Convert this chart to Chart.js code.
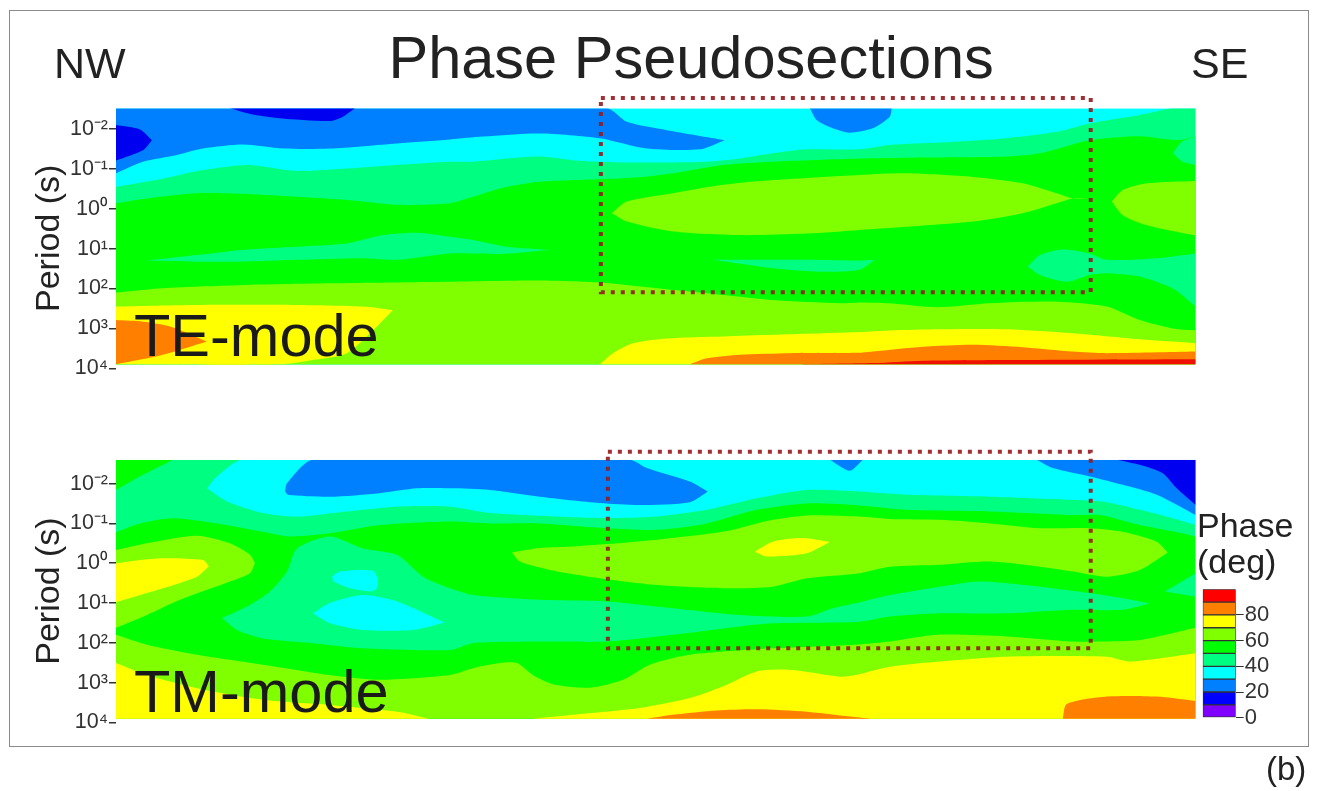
<!DOCTYPE html>
<html><head><meta charset="utf-8">
<script src="https://cdn.jsdelivr.net/npm/chart.js@4"></script>
<style>
html,body{margin:0;padding:0;background:#fff;width:1317px;height:791px;overflow:hidden;font-family:"Liberation Sans",Arial,sans-serif;}
#frame{position:absolute;left:9px;top:10px;width:1298px;height:735px;border:1px solid #8a8a8a;}
canvas{position:absolute;}
.t{position:absolute;white-space:pre;color:#222;line-height:1;z-index:5;}
</style></head><body>
<div id="frame"></div>
<canvas id="te" style="left:0;top:85px" width="1200" height="300"></canvas>
<canvas id="tm" style="left:0;top:440px" width="1200" height="300"></canvas>
<canvas id="bar" style="left:1190px;top:575px" width="127" height="160"></canvas>
<div class="t" style="left:388.5px;top:28px;font-size:59.5px">Phase Pseudosections</div>
<div class="t" style="left:54px;top:42px;font-size:43px">NW</div>
<div class="t" style="left:1191px;top:42px;font-size:43px">SE</div>
<div class="t" style="left:134px;top:306px;font-size:59.5px;color:#1a1a1a">TE-mode</div>
<div class="t" style="left:134px;top:662px;font-size:59.5px;color:#1a1a1a">TM-mode</div>
<div class="t" style="left:1197px;top:508px;font-size:34px">Phase</div>
<div class="t" style="left:1197px;top:544px;font-size:34px">(deg)</div>
<div class="t" style="left:1266px;top:752px;font-size:33px">(b)</div>
<script>
const tickLabels = ['10\u207B\u00B2','10\u207B\u00B9','10\u2070','10\u00B9','10\u00B2','10\u00B3','10\u2074'];
const tickExps = [-2,-1,0,1,2,3,4];
const phaseBands = [0,10,20,30,40,50,60,70,80,90,100];
const phaseTicks = [0,20,40,60,80];
const C = {violet:'#8000ff',deep:'#0000f0',blue:'#0080ff',cyan:'#00ffff',teal:'#00ff80',green:'#00ff00',lime:'#80ff00',yellow:'#ffff00',orange:'#ff8000',red:'#f01000'};
const bandColors = [C.violet,'#0000ff',C.blue,C.cyan,C.teal,C.green,C.lime,C.yellow,C.orange,'#ff0000'];

/* TE-mode contours: [station, log10 period] */
const teTop = [[0,-2.52],[1080,-2.52]];
const teBlueUp = [[0,-2.52],[491,-2.52],[511,-2.18],[551,-1.97],[609,-1.72]];
const teBlueLow = [[0,-.89],[27,-1.18],[61,-1.35],[87,-1.51],[127,-1.61],[167,-1.51],[214,-1.51],[281,-1.64],[334,-1.74],[367,-1.81],[424,-1.89],[484,-1.77],[531,-1.51],[584,-1.49],[609,-1.72]];
const teDeepAUp = [[114,-2.52],[239,-2.52]];
const teDeepALow = [[114,-2.52],[134,-2.38],[164,-2.27],[214,-2.20],[227,-2.31],[239,-2.52]];
const teDeepBUp = [[0,-2.10],[24,-1.99],[36,-1.72]];
const teDeepBLow = [[0,-1.21],[27,-1.47],[36,-1.72]];
const teBlueBUp = [[694,-2.52],[776,-2.52]];
const teBlueBLow = [[694,-2.52],[701,-2.22],[717,-2.02],[734,-1.91],[757,-2.02],[774,-2.31],[776,-2.52]];
const teCyanLow = [[0,-.55],[48,-.76],[87,-.97],[131,-1.10],[181,-.95],[231,-1.01],[281,-1.10],[334,-1.18],[357,-1.18],[391,-1.26],[424,-1.31],[457,-1.22],[484,-1.18],[524,-1.16],[591,-1.18],[624,-1.26],[657,-1.39],[691,-1.49],[744,-1.49],[774,-1.60],[824,-1.66],[891,-1.77],[941,-1.93],[974,-2.14],[1024,-2.35],[1057,-2.52],[1080,-2.52]];
const teGreenUp = [[0,-.14],[31,-.26],[81,-.39],[131,-.37],[181,-.30],[231,-.22],[281,-.10],[334,-.14],[357,-.30],[391,-.55],[424,-.68],[484,-.74],[524,-.79],[557,-.89],[607,-1.10],[657,-1.18],[744,-1.26],[791,-1.28],[891,-1.31],[924,-1.39],[974,-1.72],[1024,-1.82],[1062,-1.72],[1080,-1.81]];
const teTealRUp = [[1057,-1.39],[1066,-1.68],[1080,-1.81]];
const teTealRLow = [[1057,-1.39],[1067,-1.18],[1080,-1.10]];
const teTealAUp = [[31,1.30],[81,1.16],[131,1.02],[181,.95],[231,.87],[267,.66],[301,.60],[334,.70],[357,.78],[391,.95],[434,1.03]];
const teTealALow = [[31,1.30],[114,1.33],[181,1.28],[247,1.24],[281,1.28],[334,1.12],[357,1.12],[391,1.13],[434,1.03]];
const teTealBUp = [[597,1.28],[624,1.28],[691,1.28],[744,1.30],[759,1.28]];
const teTealBLow = [[597,1.28],[657,1.49],[707,1.58],[744,1.53],[759,1.28]];
const teTealCUp = [[912,1.45],[924,1.16],[947,1.02],[974,1.12],[991,1.28],[1041,1.24],[1080,1.12]];
const teTealCLow = [[912,1.45],[924,1.66],[951,1.83],[974,1.66],[994,1.62],[1024,1.70],[1057,2.00],[1080,2.45]];
const teLimeAUp = [[496,.11],[511,-.18],[557,-.39],[607,-.60],[657,-.72],[744,-.85],[791,-.89],[857,-.80],[907,-.64],[941,-.39],[957,-.26],[974,-.26]];
const teLimeALow = [[496,.11],[511,.32],[557,.57],[624,.66],[691,.62],[744,.53],[791,.45],[857,.32],[907,.11],[941,-.14],[957,-.26],[974,-.26]];
const teLimeBUp = [[996,-.18],[1007,-.47],[1031,-.64],[1080,-.70]];
const teLimeBLow = [[996,-.18],[1007,.16],[1031,.41],[1080,.67]];
const teLimeLow = [[0,2.10],[47,1.99],[131,1.91],[214,1.87],[334,1.83],[424,1.80],[484,1.85],[524,1.95],[591,2.12],[657,2.29],[724,2.37],[744,2.35],[774,2.37],[821,2.47],[874,2.37],[941,2.33],[991,2.45],[1024,2.79],[1057,3.00],[1080,3.05]];
const teYellowLUp = [[0,2.45],[81,2.41],[181,2.41],[247,2.45],[277,2.54]];
const teYellowLLow = [[0,3.90],[164,3.90],[197,3.79],[231,3.62],[261,2.95],[277,2.54]];
const teOrangeLUp = [[0,2.79],[27,2.83],[54,2.95],[91,3.33]];
const teOrangeLLow = [[0,3.90],[47,3.66],[91,3.33]];
const teYellowR = [[484,3.90],[497,3.62],[517,3.37],[551,3.25],[607,3.20],[657,3.16],[744,3.09],[774,3.05],[824,3.02],[891,3.02],[957,3.12],[1024,3.27],[1080,3.37]];
const teOrangeR = [[574,3.90],[591,3.75],[624,3.66],[674,3.62],[744,3.61],[757,3.58],[807,3.46],[857,3.41],[907,3.47],[957,3.58],[991,3.62],[1080,3.58]];
const teRed = [[681,3.90],[757,3.87],[807,3.81],[891,3.79],[1080,3.77]];
const teBox = [[485,-2.78],[975,-2.78],[975,2.09],[485,2.09],[485,-2.78]];

/* TM-mode contours */
const tmTop = [[0,-2.60],[1080,-2.60]];
const tmGreenCUp = [[0,-2.60],[57,-2.60]];
const tmGreenCLow = [[0,-1.84],[27,-2.22],[57,-2.60]];
const tmCyanUp = [[91,-1.88],[101,-2.18],[127,-2.60],[1080,-2.60]];
const tmCyanLow = [[91,-1.88],[111,-1.55],[147,-1.26],[181,-1.17],[231,-1.30],[281,-1.42],[334,-1.42],[374,-1.26],[441,-1.17],[491,-1.13],[541,-1.17],[591,-1.34],[641,-1.63],[691,-1.84],[744,-1.80],[791,-1.72],[874,-1.67],[957,-1.59],[987,-1.55],[1024,-1.34],[1057,-1.13],[1080,-.96]];
const tmBlueUp = [[169,-1.80],[171,-2.01],[197,-2.60],[514,-2.60],[531,-2.39],[574,-2.05],[592,-1.80]];
const tmBlueLow = [[169,-1.80],[172,-1.72],[214,-1.67],[264,-1.76],[301,-1.88],[334,-1.88],[374,-1.84],[424,-1.67],[484,-1.51],[524,-1.46],[574,-1.53],[592,-1.80]];
const tmBlueBUp = [[714,-2.60],[747,-2.60]];
const tmBlueBLow = [[714,-2.60],[734,-2.32],[747,-2.60]];
const tmBlueCUp = [[921,-2.60],[1080,-2.60]];
const tmBlueCLow = [[921,-2.60],[937,-2.39],[974,-2.18],[1007,-1.97],[1041,-1.72],[1080,-1.21]];
const tmDeepUp = [[1001,-2.60],[1080,-2.60]];
const tmDeepLow = [[1001,-2.60],[1024,-2.47],[1047,-2.26],[1061,-1.88],[1080,-1.46]];
const tmGreenUp = [[0,-.78],[24,-1.0],[57,-1.13],[101,-1.0],[147,-.79],[174,-.67],[214,-.75],[264,-.96],[334,-1.05],[374,-1.0],[424,-1.0],[491,-.88],[541,-.84],[591,-1.0],[641,-1.34],[691,-1.50],[744,-1.45],[791,-1.34],[874,-1.30],[957,-1.21],[984,-1.21],[1024,-.96],[1057,-.80],[1080,-.67]];
const tmLimeLUp = [[0,-.33],[31,-.50],[81,-.69],[114,-.50],[134,-.21],[139,0]];
const tmLimeLLow = [[0,1.62],[31,1.30],[64,.92],[114,.46],[134,.25],[139,0]];
const tmYellowMUp = [[0,0],[41,-.12],[87,-.08],[93,.08]];
const tmYellowMLow = [[0,.98],[47,.63],[81,.34],[93,.08]];
const tmTealUp = [[106,1.38],[131,1.09],[154,.71],[171,.21],[181,-.37],[214,-.67],[247,-.37],[281,-.21],[307,.34],[334,.63],[357,.80],[424,.92],[491,.96],[557,1.13],[624,1.30],[691,1.34],[717,1.13],[744,.98],[774,.80],[824,.59],[864,.46],[924,.59],[974,.75],[1007,.88],[1034,1.01]];
const tmTealLow = [[106,1.38],[121,1.68],[147,1.89],[197,2.01],[247,2.14],[334,2.18],[357,2.01],[424,1.97],[491,1.97],[557,1.80],[624,1.59],[657,1.51],[744,1.47],[774,1.34],[824,1.26],[891,1.26],[957,1.17],[1007,1.17],[1034,1.01]];
const tmTealRUp = [[1049,.71],[1080,.25]];
const tmTealRLow = [[1049,.71],[1080,.84]];
const tmCyanSUp = [[216,.34],[224,.21],[257,.19],[262,.38]];
const tmCyanSLow = [[216,.34],[218,.46],[234,.63],[254,.71],[261,.63],[262,.38]];
const tmCyanLUp = [[197,1.26],[214,1.00],[247,.80],[281,.96],[329,1.49]];
const tmCyanLLow = [[197,1.26],[214,1.51],[247,1.68],[297,1.68],[329,1.49]];
const tmLimeMUp = [[396,-.27],[424,-.38],[457,-.42],[491,-.48],[541,-.59],[607,-.79],[641,-1.0],[657,-1.09],[691,-1.20],[744,-1.17],[774,-1.11],[824,-1.09],[874,-1.0],[924,-.88],[974,-.88],[1007,-.79],[1041,-.54],[1052,-.27]];
const tmLimeMLow = [[396,-.27],[404,-.04],[434,.17],[484,.38],[541,.55],[607,.63],[657,.59],[691,.38],[744,.25],[774,.09],[824,.04],[874,-.04],[924,.09],[957,.21],[991,.34],[1024,.17],[1052,-.27]];
const tmYellowSUp = [[639,-.29],[657,-.54],[687,-.63],[714,-.53]];
const tmYellowSLow = [[639,-.29],[651,-.17],[691,-.25],[714,-.53]];
const tmLimeLow = [[0,1.80],[31,2.05],[81,2.30],[147,2.55],[214,2.81],[264,2.93],[334,2.81],[357,2.64],[384,2.51],[401,2.51],[417,2.81],[437,3.04],[474,3.13],[507,2.93],[534,2.55],[574,2.30],[657,2.14],[744,2.04],[774,1.97],[821,1.80],[891,1.84],[957,1.97],[984,1.97],[1024,1.93],[1080,1.62]];
const tmYellowL = [[0,2.51],[31,2.81],[81,3.14],[147,3.43],[214,3.56],[281,3.73],[314,3.91]];
const tmYellowR = [[417,3.91],[457,3.81],[524,3.64],[574,3.39],[607,3.10],[641,2.72],[674,2.68],[724,2.85],[741,2.80],[774,2.60],[824,2.47],[891,2.35],[991,2.35],[1014,2.47],[1080,2.26]];
const tmOrangeC = [[531,3.91],[557,3.81],[601,3.70],[641,3.67],[691,3.73],[734,3.85],[757,3.91]];
const tmOrangeR = [[947,3.91],[951,3.54],[991,3.35],[1041,3.35],[1080,3.46]];
const tmBox = [[492,-2.80],[975,-2.80],[975,2.14],[492,2.14],[492,-2.80]];

const teLayers = [
 [C.cyan,teTop,null],[C.blue,teBlueUp,teBlueLow],[C.deep,teDeepAUp,teDeepALow],[C.deep,teDeepBUp,teDeepBLow],[C.blue,teBlueBUp,teBlueBLow],
 [C.teal,teCyanLow,null],[C.green,teGreenUp,null],[C.teal,teTealRUp,teTealRLow],[C.teal,teTealAUp,teTealALow],[C.teal,teTealBUp,teTealBLow],[C.teal,teTealCUp,teTealCLow],
 [C.lime,teLimeAUp,teLimeALow],[C.lime,teLimeBUp,teLimeBLow],[C.lime,teLimeLow,null],[C.yellow,teYellowLUp,teYellowLLow],[C.orange,teOrangeLUp,teOrangeLLow],
 [C.yellow,teYellowR,null],[C.orange,teOrangeR,null],[C.red,teRed,null]];
const tmLayers = [
 [C.teal,tmTop,null],[C.green,tmGreenCUp,tmGreenCLow],[C.cyan,tmCyanUp,tmCyanLow],[C.blue,tmBlueUp,tmBlueLow],[C.blue,tmBlueBUp,tmBlueBLow],[C.blue,tmBlueCUp,tmBlueCLow],[C.deep,tmDeepUp,tmDeepLow],
 [C.green,tmGreenUp,null],[C.lime,tmLimeLUp,tmLimeLLow],[C.yellow,tmYellowMUp,tmYellowMLow],[C.teal,tmTealUp,tmTealLow],[C.teal,tmTealRUp,tmTealRLow],[C.cyan,tmCyanSUp,tmCyanSLow],[C.cyan,tmCyanLUp,tmCyanLLow],
 [C.lime,tmLimeMUp,tmLimeMLow],[C.yellow,tmYellowSUp,tmYellowSLow],[C.lime,tmLimeLow,null],[C.yellow,tmYellowL,null],[C.yellow,tmYellowR,null],[C.orange,tmOrangeC,null],[C.orange,tmOrangeR,null]];

const pts = a => a.map(p => ({x:p[0],y:p[1]}));
function panel(id, layers, box, yMin, yFloor, padTop, padBottom){
  const datasets = [];
  layers.forEach(([color,up,low]) => {
    const order = 1000 - datasets.length;
    const base = {pointRadius:0,borderWidth:0,tension:0.25,order};
    if (low) {
      datasets.push({...base,data:pts(up),backgroundColor:color,fill:datasets.length+1});
      datasets.push({...base,data:pts(low),fill:false});
    } else {
      datasets.push({...base,data:pts(up),backgroundColor:color,fill:{target:{value:yFloor}}});
    }
  });
  datasets.push({data:pts(box),order:0,fill:false,tension:0,pointRadius:0,borderWidth:4,borderColor:'rgba(150,25,30,.9)',borderDash:[4,6],clip:false});
  new Chart(document.getElementById(id),{type:'line',data:{datasets},options:{
    responsive:false,animation:false,events:[],
    layout:{padding:{left:0,right:4.3,top:padTop,bottom:padBottom}},
    plugins:{legend:{display:false},tooltip:{enabled:false}},
    scales:{
      x:{type:'linear',min:0,max:1080,display:false},
      y:{type:'linear',reverse:true,min:yMin,max:4,
        afterFit(s){s.width=116;},
        afterBuildTicks(s){s.ticks=tickExps.map(v=>({value:v}));},
        border:{display:false},
        grid:{drawOnChartArea:false,drawTicks:true,tickLength:7,color:'#333',lineWidth:1.5},
        ticks:{autoSkip:false,padding:1,color:'#333',font:{family:'"Liberation Sans"',size:21.5},callback:v=>tickLabels[tickExps.indexOf(v)]},
        title:{display:true,text:'Period (s)',color:'#222',font:{family:'"Liberation Sans"',size:34},padding:{top:29,bottom:0}}
      }
    }}});
}
panel('te',teLayers,teBox,-2.52,3.90,23.3,16.7);
panel('tm',tmLayers,tmBox,-2.60,3.91,19.7,17.6);

new Chart(document.getElementById('bar'),{type:'bar',data:{labels:['Phase'],
  datasets:bandColors.map((c,i)=>({data:[phaseBands[i+1]-phaseBands[i]],backgroundColor:c,borderColor:'#333',borderWidth:1,borderSkipped:false,barPercentage:1,categoryPercentage:1,stack:'p'}))},
  options:{responsive:false,animation:false,events:[],
    layout:{padding:{left:12.7,right:0,top:14,bottom:17.3}},
    plugins:{legend:{display:false},tooltip:{enabled:false}},
    scales:{
      x:{display:false,stacked:true},
      y:{position:'right',stacked:true,min:0,max:100,
        afterFit(s){s.width=81.3;},
        afterBuildTicks(s){s.ticks=phaseTicks.map(v=>({value:v}));},
        border:{display:false},
        grid:{drawOnChartArea:false,tickLength:8,color:'#333'},
        ticks:{padding:1,color:'#333',font:{family:'"Liberation Sans"',size:22}}
      }}}});
</script>
</body></html>
